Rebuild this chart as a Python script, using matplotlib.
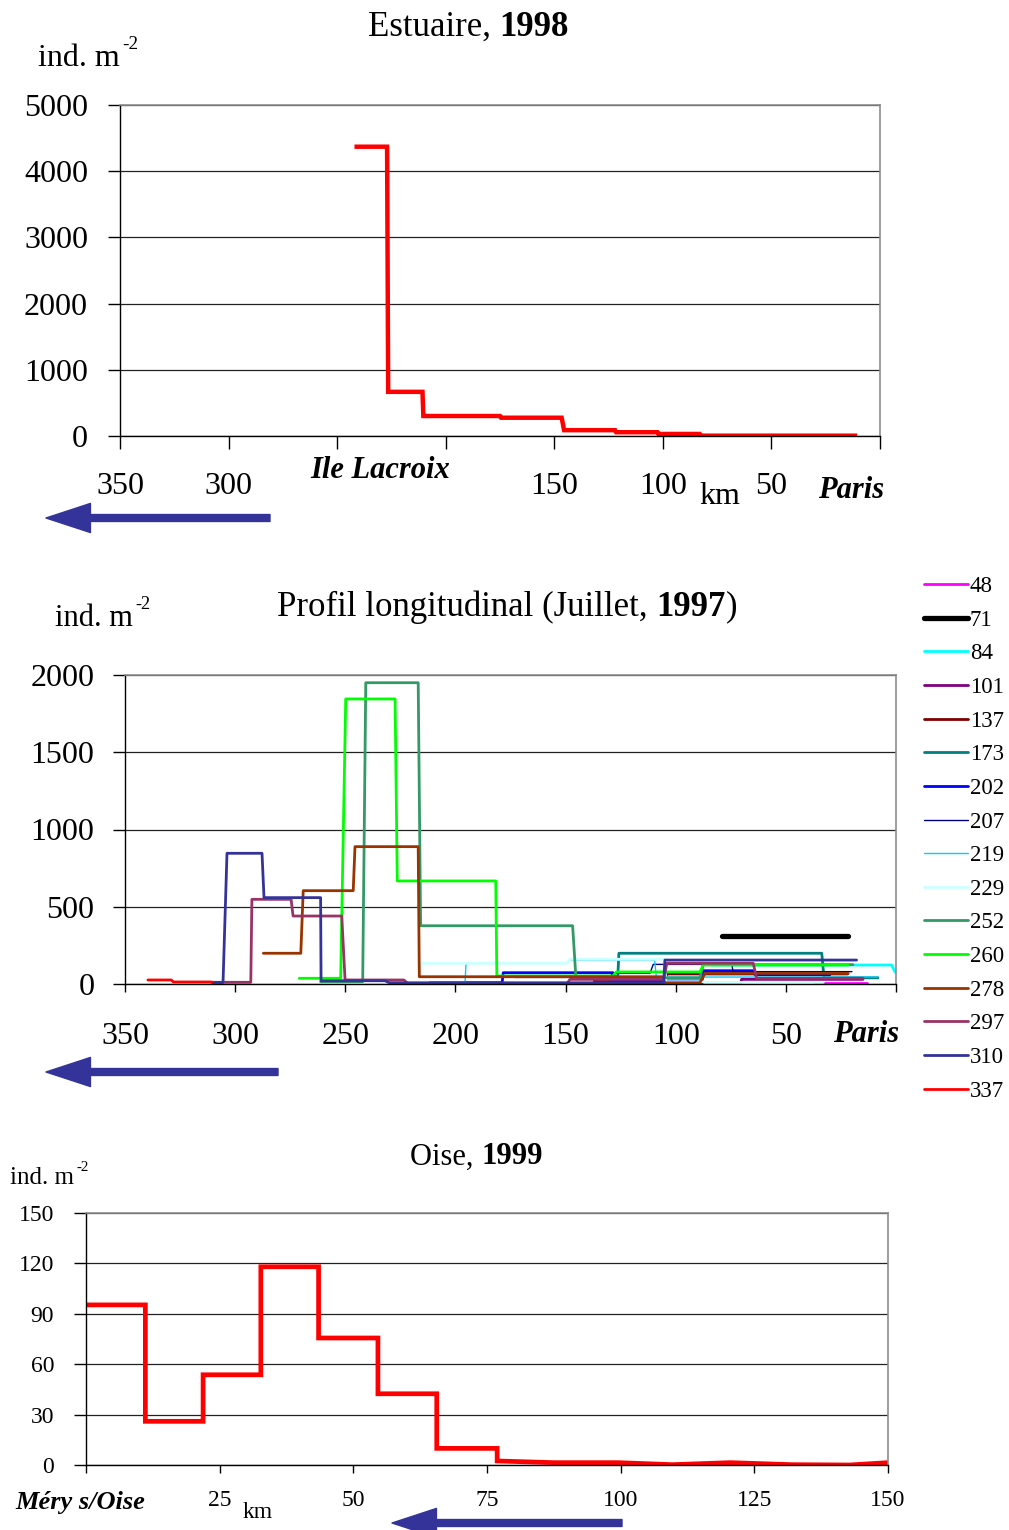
import matplotlib
matplotlib.use('Agg')
import matplotlib.pyplot as plt
from matplotlib.patches import FancyArrowPatch

plt.rcParams['font.family'] = ['Liberation Serif', 'DejaVu Serif']

W, H = 1009, 1530

# ---- Estuaire, 1998 (km from Paris, ind/m2)
estu_km = [241, 227, 226.5, 210.7, 210.3, 175, 174.5, 146.6, 145.5, 122, 121.5,
           102.5, 102, 83, 82.5, 11.5]
estu_val = [4370, 4370, 667, 667, 302, 302, 276, 276, 88, 88, 57, 57, 31, 31, 5, 5]
estu_yticks = [0, 1000, 2000, 3000, 4000, 5000]
km_ticks = [350, 300, 250, 200, 150, 100, 50, 0]
estu_xlabels = ['350', '300', '', '', '150', '100', '50', '']

# ---- Profil longitudinal, juillet 1997 : one step profile per station
s48_km = [36.8, 13.3]
s48_val = [8, 8]
s71_km = [79, 21.7]
s71_val = [311, 311]
s84_km = [84, 2.0, 0.5]
s84_val = [123, 123, 80]
s101_km = [101, 70.5, 70.1, 15]
s101_val = [5, 5, 30, 30]
s137_km = [137, 105, 104, 22]
s137_val = [20, 20, 65, 65]
s173_km = [173, 126.3, 125.8, 33.7, 32.7, 8.2]
s173_val = [47, 47, 199, 199, 40, 40]
s202_km = [211.6, 178.8, 178.3, 128.5, 128, 88, 87.5, 64.8, 64, 30]
s202_val = [8, 8, 73, 73, 20, 20, 86, 86, 60, 60]
s207_km = [207, 130, 129, 111.7, 110.2, 74.5, 74.0, 20]
s207_val = [8, 8, 69, 69, 127, 127, 80, 80]
s219_km = [211.6, 195.6, 195.2, 149.5, 148.0, 109.6, 108.8, 8.2]
s219_val = [15, 15, 138, 138, 155, 155, 45, 45]
s229_km = [216, 215.3, 149.5, 148.0, 105, 104.5, 87.5, 87, 33]
s229_val = [47, 134, 134, 160, 160, 15, 15, 10, 10]
s252_km = [261.2, 242.1, 240.7, 216.9, 215.8, 146.8, 145.3, 89, 87.5, 19.5]
s252_val = [15, 15, 1950, 1950, 377, 377, 40, 40, 125, 125]
s260_km = [270.9, 252.1, 249.8, 227.4, 226.4, 181.7, 181.2, 128.5, 127, 89, 87.5, 21.7]
s260_val = [37, 37, 1845, 1845, 667, 667, 52, 52, 78, 78, 123, 123]
s278_km = [287.2, 270.2, 269.1, 246.4, 245.6, 216.9, 216.4, 106, 104.9, 89, 86.7, 21.7]
s278_val = [199, 199, 604, 604, 889, 889, 47, 47, 8, 8, 69, 69]
s297_km = [310.1, 292.9, 292.4, 274.6, 273.7, 251.6, 250.1, 223.4, 221.4, 149.5,
           148.0, 105.5, 104.0, 64.8, 63.3, 15.0]
s297_val = [11, 11, 548, 548, 440, 440, 26, 26, 0, 0, 30, 30, 134, 134, 37, 37]
s310_km = [310.6, 305.5, 303.7, 287.8, 286.9, 261.2, 261.0, 232, 230, 105.5, 104.9, 17.9]
s310_val = [10, 10, 846, 846, 559, 559, 21, 21, 8, 8, 155, 155]
s337_km = [339.6, 329, 328, 310.6]
s337_val = [26, 26, 13, 13]

profil_labels = ['48', '71', '84', '101', '137', '173', '202', '207', '219', '229',
                 '252', '260', '278', '297', '310', '337']
profil_km = [s48_km, s71_km, s84_km, s101_km, s137_km, s173_km, s202_km, s207_km,
             s219_km, s229_km, s252_km, s260_km, s278_km, s297_km, s310_km, s337_km]
profil_val = [s48_val, s71_val, s84_val, s101_val, s137_val, s173_val, s202_val,
              s207_val, s219_val, s229_val, s252_val, s260_val, s278_val, s297_val,
              s310_val, s337_val]
profil_colors = ['#FF00FF', '#000000', '#00FFFF', '#800080', '#800000', '#008080',
                 '#0000FF', '#000080', '#00CCFF', '#CCFFFF', '#339966', '#00FF00',
                 '#993300', '#993366', '#333399', '#FF0000']
profil_lw = [2, 3.8, 2, 2, 2, 2, 2, 1, 1, 2, 2, 2, 2, 2, 2, 2]
profil_yticks = [0, 500, 1000, 1500, 2000]
profil_xlabels = ['350', '300', '250', '200', '150', '100', '50', '']

# ---- Oise, 1999 (km from Méry s/Oise)
oise_km = [0, 11.1, 11.1, 21.9, 21.9, 32.7, 32.7, 43.5, 43.5, 54.6, 54.6, 65.6,
           65.6, 76.9, 76.9, 87.5, 99.5, 109.7, 120.5, 132, 142.8, 150]
oise_val = [95.3, 95.3, 26, 26, 53.7, 53.7, 118, 118, 75.6, 75.6, 42.4, 42.4,
            9.9, 9.9, 2.4, 1.4, 1.4, 0.2, 1.4, 0.2, 0, 1.4]
oise_yticks = [0, 30, 60, 90, 120, 150]
oise_xticks = [0, 25, 50, 75, 100, 125, 150]
oise_xlabels = ['', '25', '50', '75', '100', '125', '150']

fig = plt.figure(figsize=(W / 100, H / 100), dpi=100)


def add_ax(l, t, r, b):
    return fig.add_axes([l / W, 1 - b / H, (r - l) / W, (b - t) / H])


def style(ax, ytick_len, xtick_len, xpad, ypad, fs):
    for s in ['top', 'right']:
        ax.spines[s].set_color('#8c8c8c')
        ax.spines[s].set_linewidth(1.2)
    for s in ['left', 'bottom']:
        ax.spines[s].set_color('black')
        ax.spines[s].set_linewidth(1)
    ax.yaxis.grid(True, color='#222222', linewidth=0.9)
    ax.set_axisbelow(True)
    ax.tick_params(axis='y', direction='out', length=ytick_len, width=1,
                   pad=ypad, labelsize=fs)
    ax.tick_params(axis='x', direction='out', length=xtick_len, width=1,
                   pad=xpad, labelsize=fs)


def ftext(x, y, s, **kw):
    return fig.text(x / W, 1 - y / H, s, **kw)


def after(prev, s, **kw):
    # text that follows another one on the same baseline
    return ax1.annotate(s, xy=(1, 0), xycoords=prev, ha='left', va='bottom', **kw)


def unit(x, y, fs):
    t = ftext(x, y, 'ind. m', ha='left', va='center', fontsize=fs)
    ax1.annotate('-2', xy=(1, 1), xycoords=t, xytext=(1.5, fs * 0.25),
                 textcoords='offset points', ha='left', va='top', fontsize=fs * 0.6)


def arrow(x0, x1, y):
    a = FancyArrowPatch((x0 / W, 1 - y / H), (x1 / W, 1 - y / H),
                        transform=fig.transFigure, color='#333399',
                        arrowstyle='simple,head_length=32,head_width=21,tail_width=5',
                        mutation_scale=1, shrinkA=0, shrinkB=0, capstyle='round',
                        joinstyle='round')
    fig.add_artist(a)


# ================= top chart
ax1 = add_ax(120, 105, 880, 436)
ax1.plot(estu_km, estu_val, color='#FF0000', linewidth=3.2, solid_joinstyle='miter')
ax1.set_xlim(350, 0)
ax1.set_ylim(0, 5000)
ax1.set_yticks(estu_yticks)
ax1.set_xticks(km_ticks)
ax1.set_xticklabels(estu_xlabels)
style(ax1, 9, 9, 17, 14, 23)

t = ftext(368, 27, 'Estuaire, ', ha='left', va='center', fontsize=25)
after(t, '1998', fontsize=25, fontweight='bold')
unit(38, 58, 23)
ftext(380, 470, 'Ile Lacroix', ha='center', va='center', fontsize=22,
      fontweight='bold', fontstyle='italic')
ftext(720, 497, 'km', ha='center', va='center', fontsize=23)
ftext(851, 490, 'Paris', ha='center', va='center', fontsize=22,
      fontweight='bold', fontstyle='italic')
arrow(270, 46, 518)

# ================= middle chart
ax2 = add_ax(125, 675, 896, 984)
handles = []
for i in range(len(profil_labels)):
    ln, = ax2.plot(profil_km[i], profil_val[i], color=profil_colors[i],
                   linewidth=profil_lw[i], label=profil_labels[i],
                   solid_capstyle='round', zorder=2 + i * 0.01)
    handles.append(ln)
ax2.set_xlim(350, 0)
ax2.set_ylim(0, 2000)
ax2.set_yticks(profil_yticks)
ax2.set_xticks(km_ticks)
ax2.set_xticklabels(profil_xlabels)
style(ax2, 9, 6, 21, 13, 23)

fig.legend(handles=handles, labels=profil_labels, loc='upper left',
           bbox_to_anchor=(924 / W, 1 - 576 / H), frameon=False, fontsize=16.5,
           handlelength=1.9, handletextpad=0.1, labelspacing=0.55, borderpad=0,
           borderaxespad=0)

t = ftext(277, 607, 'Profil longitudinal (Juillet, ', ha='left', va='center',
          fontsize=25)
t = after(t, '1997', fontsize=25, fontweight='bold')
after(t, ')', fontsize=25)
unit(55, 618, 22)
ftext(866, 1035, 'Paris', ha='center', va='center', fontsize=22,
      fontweight='bold', fontstyle='italic')
arrow(278, 46, 1072)

# ================= bottom chart
ax3 = add_ax(86, 1213, 888, 1465)
ax3.plot(oise_km, oise_val, color='#FF0000', linewidth=3.4, solid_joinstyle='miter')
ax3.set_xlim(0, 150)
ax3.set_ylim(0, 150)
ax3.set_yticks(oise_yticks)
ax3.set_xticks(oise_xticks)
ax3.set_xticklabels(oise_xlabels)
style(ax3, 9, 6, 12, 14, 17)

t = ftext(410, 1157, 'Oise, ', ha='left', va='center', fontsize=22)
after(t, '1999', fontsize=22, fontweight='bold')
unit(10, 1178, 18)
ftext(15, 1502, 'Méry s/Oise', ha='left', va='center', fontsize=19,
      fontweight='bold', fontstyle='italic')
ftext(258, 1512, 'km', ha='center', va='center', fontsize=17)
arrow(622, 392, 1523)

fig.savefig('out.png', dpi=100, facecolor='white')
